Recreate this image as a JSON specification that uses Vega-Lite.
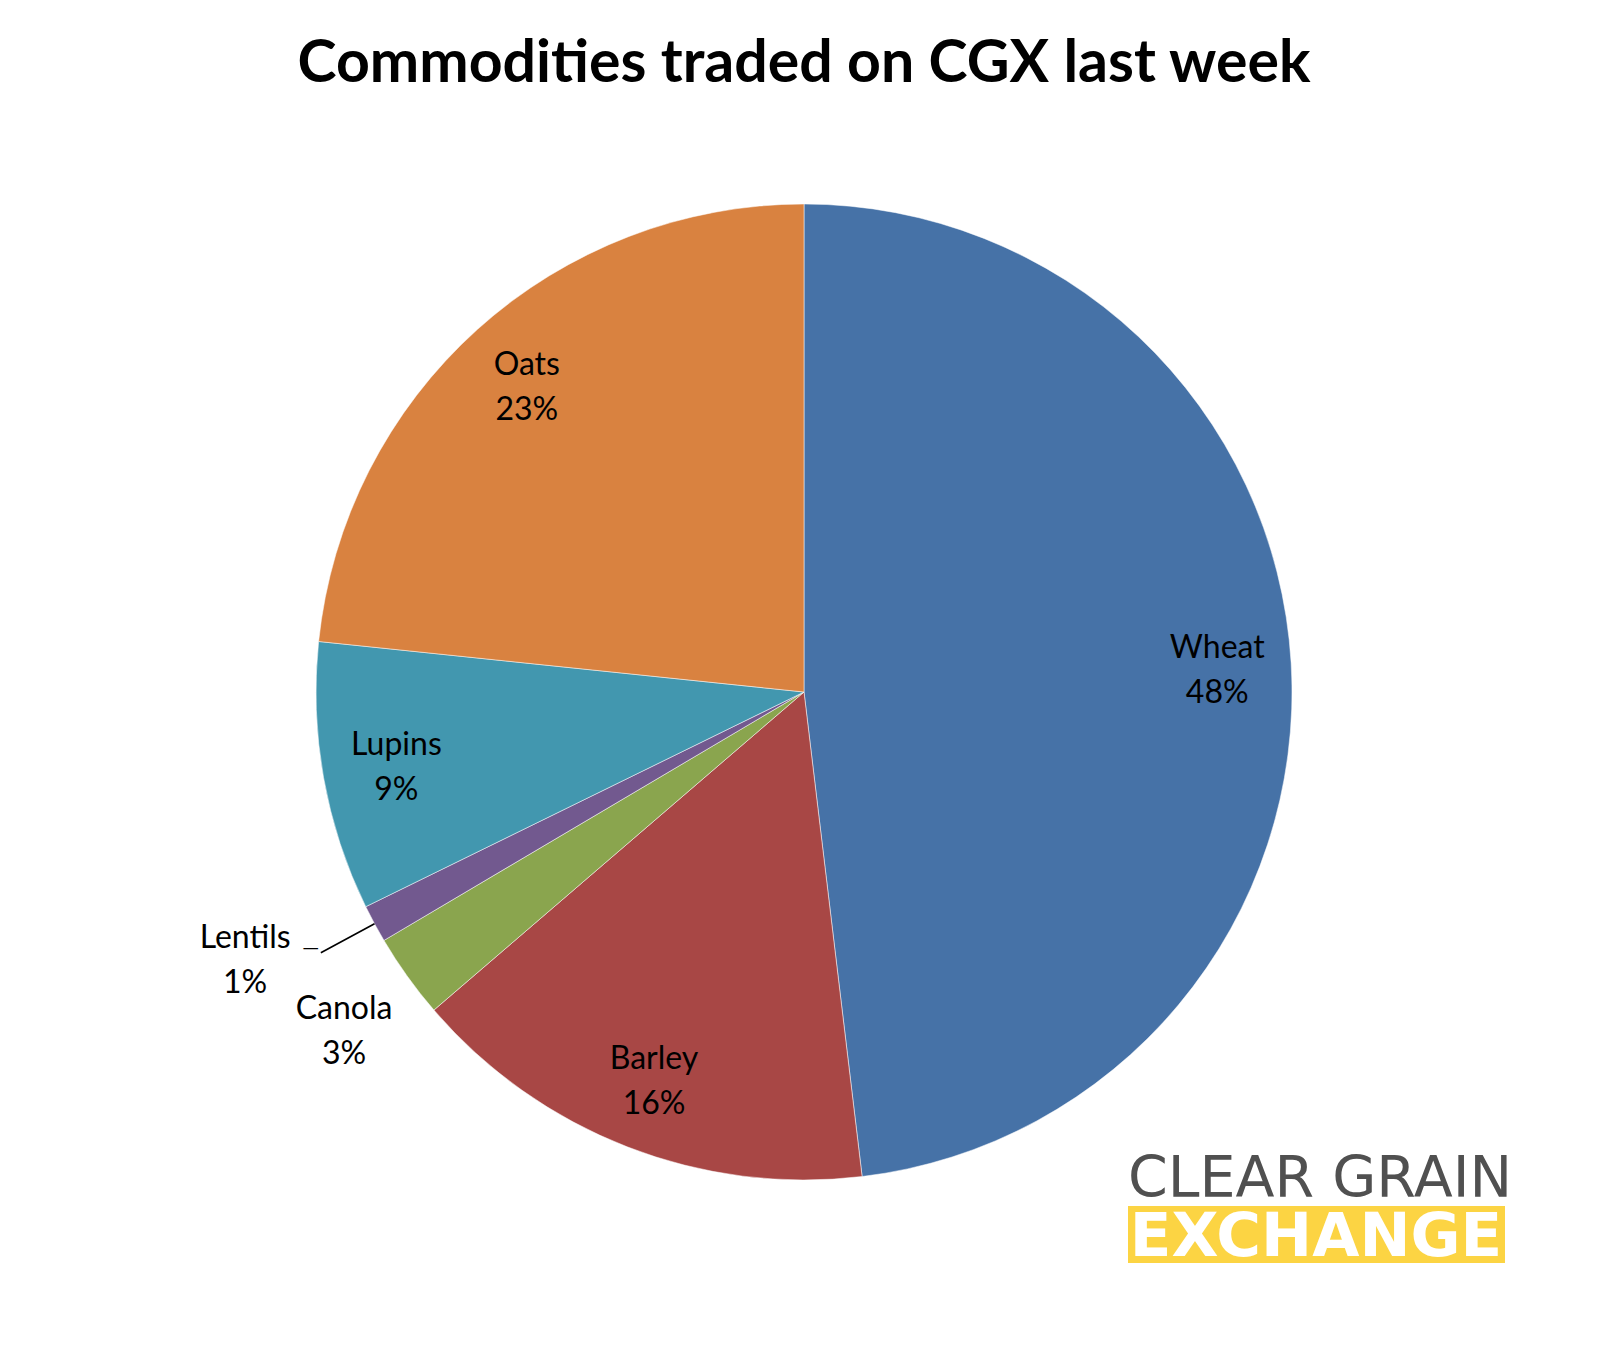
{
  "$schema": "https://vega.github.io/schema/vega-lite/v6.json",
  "autosize": {"type": "none"},
  "width": 1608,
  "height": 1124,
  "padding": {"top": 130, "left": 0, "right": 0, "bottom": 96},
  "background": "white",
  "title": {
    "text": "Commodities traded on CGX last week",
    "font": "Lato",
    "fontSize": 59,
    "fontWeight": "bold",
    "color": "#000000",
    "anchor": "middle",
    "offset": 36
  },
  "config": {"view": {"stroke": null}},
  "data": {
    "values": [
      {"i": 1, "name": "Wheat", "value": 48.1, "label": "Wheat\n48%"},
      {"i": 2, "name": "Barley", "value": 15.6, "label": "Barley\n16%"},
      {"i": 3, "name": "Canola", "value": 2.8, "label": "Canola\n3%"},
      {"i": 4, "name": "Lentils", "value": 1.25, "label": "Lentils\n1%"},
      {"i": 5, "name": "Lupins", "value": 8.9, "label": "Lupins\n9%"},
      {"i": 6, "name": "Oats", "value": 23.35, "label": "Oats\n23%"}
    ]
  },
  "encoding": {
    "theta": {"field": "value", "type": "quantitative", "stack": true},
    "order": {"field": "i", "type": "quantitative"}
  },
  "layer": [
    {
      "mark": {"type": "arc", "outerRadius": 488, "stroke": "white", "strokeWidth": 0.5},
      "encoding": {
        "color": {
          "field": "name",
          "type": "nominal",
          "scale": {
            "domain": ["Wheat", "Barley", "Canola", "Lentils", "Lupins", "Oats"],
            "range": ["#4672A7", "#A84745", "#8AA54E", "#72598F", "#4297AF", "#D98240"]
          },
          "legend": null
        }
      }
    },
    {
      "mark": {"type": "arc", "innerRadius": 488, "outerRadius": 549, "padAngle": 0.2, "fill": "black", "stroke": "black", "strokeWidth": 1.6},
      "encoding": {
        "opacity": {"condition": {"test": "datum.name === 'Lentils'", "value": 1}, "value": 0}
      }
    },
    {
      "mark": {"type": "text", "radius": 414, "dy": -19, "font": "Lato", "fontSize": 32, "lineBreak": "\n", "lineHeight": 45, "baseline": "middle", "align": "center", "color": "black"},
      "encoding": {
        "text": {"field": "label"},
        "opacity": {"condition": {"test": "datum.name === 'Canola' || datum.name === 'Lentils'", "value": 0}, "value": 1}
      }
    },
    {
      "mark": {"type": "text", "radius": 566, "dy": -13, "font": "Lato", "fontSize": 32, "lineBreak": "\n", "lineHeight": 45, "baseline": "middle", "align": "center", "color": "black"},
      "encoding": {
        "text": {"field": "label"},
        "opacity": {"condition": {"test": "datum.name === 'Canola'", "value": 1}, "value": 0}
      }
    },
    {
      "mark": {"type": "text", "radius": 610, "dx": -22, "dy": -44, "font": "Lato", "fontSize": 32, "lineBreak": "\n", "lineHeight": 45, "baseline": "middle", "align": "center", "color": "black"},
      "encoding": {
        "text": {"field": "label"},
        "opacity": {"condition": {"test": "datum.name === 'Lentils'", "value": 1}, "value": 0}
      }
    },
    {
      "mark": {"type": "text", "radius": 549, "dx": -10, "dy": -5, "font": "Lato", "fontSize": 22, "baseline": "middle", "align": "center", "color": "black"},
      "encoding": {
        "text": {"value": "—"},
        "opacity": {"condition": {"test": "datum.name === 'Lentils'", "value": 1}, "value": 0}
      }
    },
    {
      "data": {"values": [{"logo": "EXCHANGE"}]},
      "mark": {"type": "rect", "color": "#FCD443"},
      "encoding": {
        "theta": null,
        "order": null,
        "x": {"value": 1128},
        "x2": {"value": 1505},
        "y": {"value": 1076},
        "y2": {"value": 1133}
      }
    },
    {
      "data": {"values": [{"logo": "CLEAR GRAIN"}]},
      "mark": {"type": "text", "font": "DejaVu Sans", "fontSize": 57, "color": "#505050", "align": "center", "baseline": "alphabetic"},
      "encoding": {
        "theta": null,
        "order": null,
        "text": {"field": "logo"},
        "x": {"value": 1320},
        "y": {"value": 1067}
      }
    },
    {
      "data": {"values": [{"logo": "EXCHANGE"}]},
      "mark": {"type": "text", "font": "DejaVu Sans", "fontWeight": "bold", "fontSize": 61, "color": "white", "align": "center", "baseline": "alphabetic"},
      "encoding": {
        "theta": null,
        "order": null,
        "text": {"field": "logo"},
        "x": {"value": 1316},
        "y": {"value": 1126}
      }
    }
  ]
}
